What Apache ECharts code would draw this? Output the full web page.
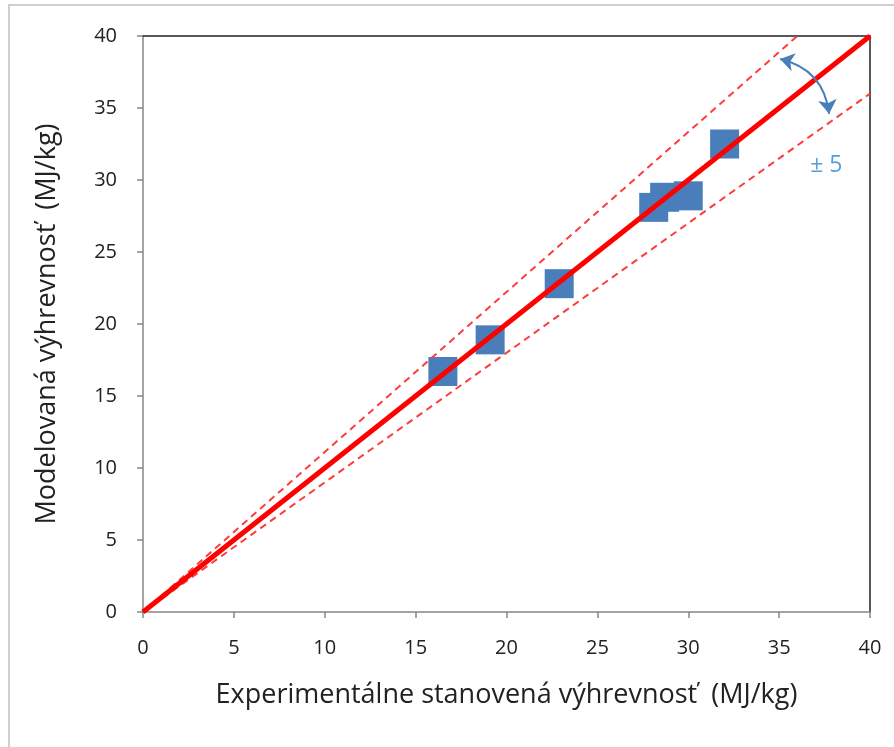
<!DOCTYPE html>
<html>
<head>
<meta charset="UTF-8">
<title>vyhrevnost</title>
<style>
html,body{margin:0;padding:0;width:100%;height:100%;background:#fff;}
#chart{width:894px;height:747px;}
</style>
</head>
<body>
<div id="chart"></div>
<script src="https://cdn.jsdelivr.net/npm/echarts@6/dist/echarts.min.js"></script>
<script>
// measured points (experimental, modelled)
var measured = [
	[16.5, 16.7],
	[19.1, 18.9],
	[22.9, 22.8],
	[28.1, 28.1],
	[28.7, 28.8],
	[30.0, 28.9],
	[32.0, 32.5]
];
var idealLine = [[0, 0], [40, 40]];
var upperLine = [[0, 0], [36, 40]];
var lowerLine = [[0, 0], [40, 36]];
var arrowEnds = [[35.05, 38.4], [37.75, 34.6]];
var labelPos = [[37.6, 31.0]];
var axisTicks = [0, 5, 10, 15, 20, 25, 30, 35, 40];

var font = '"Open Sans", sans-serif';
var chart = echarts.init(document.getElementById('chart'));

function axis(name, gap, margin) {
	return {
		type: 'value',
		min: axisTicks[0],
		max: axisTicks[axisTicks.length - 1],
		interval: 5,
		name: name,
		nameLocation: 'middle',
		nameGap: gap,
		nameTextStyle: {color: '#222', fontSize: 27, fontFamily: font},
		axisLine: {show: true, lineStyle: {color: '#868686', width: 1.5}},
		axisTick: {show: true, inside: false, length: 6, lineStyle: {color: '#868686', width: 1.5}},
		axisLabel: {color: '#222', fontSize: 20, fontFamily: font, margin: margin},
		splitLine: {show: false}
	};
}

// top and right frame lines of the plot area
function frame(pos) {
	return {
		type: 'value', position: pos,
		min: 0, max: 40,
		axisLine: {show: true, onZero: false, lineStyle: {color: '#222', width: 1.5}},
		axisTick: {show: false}, axisLabel: {show: false}, splitLine: {show: false}
	};
}

var xAxis = axis('Experimentálne stanovená výhrevnosť  (MJ/kg)', 70, 26);
var yAxis = axis('Modelovaná výhrevnosť  (MJ/kg)', 82, 26);

chart.setOption({
	animation: false,
	backgroundColor: '#fff',
	grid: {left: 143, right: 24, top: 36, bottom: 135},
	graphic: [{
		type: 'rect',
		shape: {x: 9, y: 5, width: 900, height: 770},
		style: {fill: 'none', stroke: '#c0c0c0', lineWidth: 1.5},
		silent: true
	}],
	xAxis: [xAxis, frame('top')],
	yAxis: [yAxis, frame('right')],
	series: [{
		type: 'scatter',
		data: measured,
		symbol: 'rect',
		symbolSize: 29,
		itemStyle: {color: '#4a7ebb', opacity: 1},
		z: 2
	}, {
		type: 'line',
		data: upperLine,
		symbol: 'none',
		lineStyle: {color: '#ff3b3b', width: 2, type: [7, 5]},
		z: 3
	}, {
		type: 'line',
		data: lowerLine,
		symbol: 'none',
		lineStyle: {color: '#ff3b3b', width: 2, type: [7, 5]},
		z: 3
	}, {
		type: 'line',
		data: idealLine,
		symbol: 'none',
		lineStyle: {color: '#ff0000', width: 5},
		z: 4
	}, {
		type: 'lines',
		coordinateSystem: 'cartesian2d',
		symbol: ['arrow', 'arrow'],
		symbolSize: 14,
		lineStyle: {color: '#4a7ebb', width: 2, opacity: 1, curveness: 0.35},
		data: [{coords: arrowEnds}],
		z: 5
	}, {
		type: 'scatter',
		data: labelPos,
		symbolSize: 0,
		label: {
			show: true,
			formatter: '± 5',
			position: 'inside',
			color: '#2e86d1',
			fontSize: 23,
			fontFamily: font
		},
		z: 5
	}]
});
</script>
</body>
</html>
